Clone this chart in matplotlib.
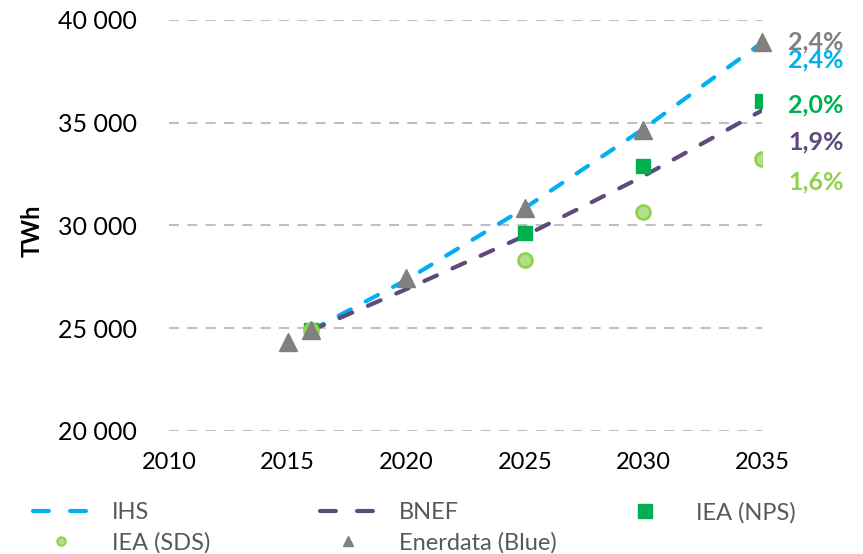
import matplotlib
matplotlib.use("Agg")
import matplotlib.pyplot as plt
from matplotlib.lines import Line2D
from matplotlib.ticker import FuncFormatter

plt.rcParams['font.family'] = ['Lato', 'DejaVu Sans']

# valeurs (TWh)
ihs_years = [2016, 2020, 2025, 2030, 2035]
ihs_vals = [24900, 27350, 30850, 34700, 38900]
bnef_years = [2016, 2020, 2025, 2030, 2035]
bnef_vals = [24900, 26900, 29500, 32400, 35600]
nps_years = [2016, 2025, 2030, 2035]
nps_vals = [24900, 29640, 32900, 36060]
sds_years = [2016, 2025, 2030, 2035]
sds_vals = [24900, 28320, 30660, 33240]
ener_years = [2015, 2016, 2020, 2025, 2030, 2035]
ener_vals = [24330, 24900, 27450, 30850, 34650, 38930]

cagr_labels = ['2,4%', '2,4%', '2,0%', '1,9%', '1,6%']
cagr_pos = [38930, 38050, 35860, 34060, 32120]

c_ihs = '#00B0F0'
c_bnef = '#604A7B'
c_nps = '#00B050'
c_sds = '#92D050'
c_ener = '#808080'
cagr_colors = [c_ener, c_ihs, c_nps, c_bnef, c_sds]

W, H = 863, 554
fig = plt.figure(figsize=(W / 100, H / 100), dpi=100)
ax = fig.add_axes([169 / W, 1 - 431 / H, 593 / W, 411 / H])

dash = (3.3, 4.1)
ax.plot(ihs_years, ihs_vals, color=c_ihs, lw=3, dashes=dash,
        dash_capstyle='round', zorder=3)
ax.plot(bnef_years, bnef_vals, color=c_bnef, lw=3, dashes=dash,
        dash_capstyle='round', zorder=3)
ax.plot(nps_years, nps_vals, ls='none', marker='s', ms=10, color=c_nps, zorder=4)
ax.plot(sds_years, sds_vals, ls='none', marker='o', ms=10, mfc='#B3DE8C',
        mec=c_sds, mew=2, zorder=4)
ax.plot(ener_years, ener_vals, ls='none', marker='^', ms=13, color=c_ener,
        zorder=5, clip_on=False)

for lab, yv, c in zip(cagr_labels, cagr_pos, cagr_colors):
    ax.text(2036.1, yv, lab, color=c, fontsize=18, fontweight='bold',
            va='center', ha='left', clip_on=False)

ax.set_xlim(2010, 2035)
ax.set_ylim(20000, 40000)
ax.set_xticks([2010, 2015, 2020, 2025, 2030, 2035])
ax.set_yticks([20000, 25000, 30000, 35000, 40000])
ax.yaxis.set_major_formatter(FuncFormatter(lambda v, p: f"{int(v):,}".replace(',', ' ')))
ax.tick_params(axis='y', length=0, pad=23, labelsize=18)
ax.tick_params(axis='x', length=0, pad=15, labelsize=17)
ax.grid(axis='y', color='#C0C0C0', ls=(0, (4.8, 4)), lw=1.5)
ax.set_axisbelow(True)
for s in ax.spines.values():
    s.set_visible(False)
fig.text(32 / W, 1 - 231 / H, 'TWh', rotation=90, fontsize=17,
         fontweight='bold', ha='center', va='center')

# légende : trois colonnes placées séparément
h_ihs = Line2D([], [], color=c_ihs, lw=3, dashes=(3.8, 5.1), dash_capstyle='round')
h_bnef = Line2D([], [], color=c_bnef, lw=3, dashes=(3.8, 5.1), dash_capstyle='round')
h_nps = Line2D([], [], ls='none', marker='s', ms=10, color=c_nps)
h_sds = Line2D([], [], ls='none', marker='o', ms=6, mfc='#B3DE8C', mec=c_sds, mew=1.5)
h_ener = Line2D([], [], ls='none', marker='^', ms=7, color=c_ener)

cols = [([h_ihs, h_sds], ['IHS', 'IEA (SDS)'], 33),
        ([h_bnef, h_ener], ['BNEF', 'Enerdata (Blue)'], 320),
        ([h_nps], ['IEA (NPS)'], 617)]
for hs, ls_, x0 in cols:
    fig.legend(hs, ls_, loc='upper left', bbox_to_anchor=(x0 / W, 1 - 502 / H),
               frameon=False, fontsize=17, handlelength=2.4, handletextpad=0.95,
               labelspacing=0.38, borderpad=0, borderaxespad=0,
               labelcolor='#595959')

fig.savefig('out.png', dpi=100)
